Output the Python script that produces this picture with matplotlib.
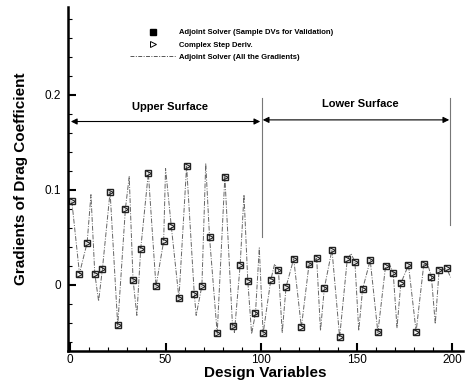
import matplotlib
matplotlib.use("Agg")
import matplotlib.pyplot as plt
from matplotlib.lines import Line2D
from matplotlib.ticker import MultipleLocator

plt.rcParams['font.family'] = ['Liberation Sans', 'DejaVu Sans']

# Sample design variables (validation points)
sample_dv = [1, 5, 9, 13, 17, 21, 25, 29, 33, 37, 41, 45, 49, 53, 57, 61, 65, 69, 73, 77,
             81, 85, 89, 93, 97, 101, 105, 109, 113, 117, 121, 125, 129, 133, 137, 141,
             145, 149, 153, 157, 161, 165, 169, 173, 177, 181, 185, 189, 193, 197]
adjoint_sample = [0.088, 0.012, 0.0445, 0.012, 0.017, 0.098, -0.0425, 0.080, 0.0056, 0.0376,
                  0.118, -0.0014, 0.046, 0.0616, -0.014, 0.125, -0.009, -0.001, 0.050, -0.051,
                  0.114, -0.043, 0.021, 0.004, -0.030, -0.051, 0.005, 0.016, -0.002, 0.0275,
                  -0.0445, 0.0216, 0.028, -0.0035, 0.037, -0.055, 0.027, 0.024, -0.0045, 0.026,
                  -0.050, 0.0195, 0.013, 0.0017, 0.021, -0.049, 0.0216, 0.0084, 0.0153, 0.0174]
complex_step = [0.088, 0.012, 0.0445, 0.012, 0.017, 0.098, -0.0425, 0.080, 0.0056, 0.0376,
                0.118, -0.0014, 0.046, 0.0616, -0.014, 0.125, -0.009, -0.001, 0.050, -0.051,
                0.114, -0.043, 0.021, 0.004, -0.030, -0.051, 0.005, 0.016, -0.002, 0.0275,
                -0.0445, 0.0216, 0.028, -0.0035, 0.037, -0.055, 0.027, 0.024, -0.0045, 0.026,
                -0.050, 0.0195, 0.013, 0.0017, 0.021, -0.049, 0.0216, 0.0084, 0.0153, 0.0174]

# All-gradient curve: values read at sample points and at the curve's extrema
all_dv = [1, 5, 9, 11, 13, 15, 17, 21, 25, 29, 31, 33, 35, 37, 41, 45, 49, 50, 53, 57,
          61, 65, 66, 69, 71, 73, 77, 81, 85, 86, 89, 91, 93, 95, 97, 99, 101, 105, 107,
          109, 111, 113, 117, 121, 125, 129, 131, 133, 137, 141, 145, 147, 149, 151, 153,
          157, 161, 165, 167, 169, 171, 173, 177, 181, 185, 187, 189, 191, 193, 197, 199]
all_grad = [0.088, 0.012, 0.0445, 0.095, 0.012, -0.017, 0.017, 0.098, -0.0425, 0.080,
            0.114, 0.0056, -0.032, 0.0376, 0.118, -0.0014, 0.046, 0.1225, 0.0616, -0.014,
            0.125, -0.009, -0.032, -0.001, 0.128, 0.050, -0.051, 0.114, -0.043, -0.050,
            0.021, 0.095, 0.004, -0.0515, -0.030, 0.039, -0.051, 0.005, 0.022,
            0.016, -0.050, -0.002, 0.0275, -0.0445, 0.0216, 0.028, -0.048, -0.0035, 0.037,
            -0.055, 0.027, 0.033, 0.024, -0.048, -0.0045, 0.026, -0.050, 0.0195, 0.022,
            0.013, -0.045, 0.0017, 0.021, -0.049, 0.0216, 0.022, 0.0084, -0.041, 0.0153,
            0.0174, 0.008]

legend_labels = ["Adjoint Solver (Sample DVs for Validation)", "Complex Step Deriv.",
                 "Adjoint Solver (All the Gradients)"]

fig = plt.figure(figsize=(4.67, 3.84), dpi=100)
ax = fig.add_axes([68/467, 1-351/384, 395/467, 344/384])

ax.plot(all_dv, all_grad, linestyle='-.', color='#666666', lw=0.7, dashes=(5, 1.5, 1, 1.5))
ax.plot(sample_dv, adjoint_sample, linestyle='none', marker='s', ms=4.8,
        mfc='none', mec='#222222', mew=1.0)
ax.plot(sample_dv, complex_step, linestyle='none', marker='>', ms=4.8,
        mfc='none', mec='#222222', mew=0.8)

ax.set_xlim(-1, 205.5)
ax.set_ylim(-0.0695, 0.2925)

for s in ['top', 'right']:
    ax.spines[s].set_visible(False)
for s in ['left', 'bottom']:
    ax.spines[s].set_linewidth(1.8)

ax.xaxis.set_major_locator(MultipleLocator(50))
ax.xaxis.set_minor_locator(MultipleLocator(10))
ax.yaxis.set_major_locator(MultipleLocator(0.1))
ax.yaxis.set_minor_locator(MultipleLocator(0.02))
ax.yaxis.set_major_formatter(plt.FuncFormatter(lambda v, p: '0' if abs(v) < 1e-9 else f'{v:g}'))
ax.tick_params(which='major', direction='in', length=6, width=1.5, labelsize=8.5)
ax.tick_params(which='minor', direction='in', length=3, width=0.8)
ax.tick_params(axis='x', which='major', pad=2)
ax.tick_params(axis='y', which='major', pad=5)

ax.set_xlabel('Design Variables', fontsize=11, fontweight='bold', labelpad=0)
ax.set_ylabel('Gradients of Drag Coefficient', fontsize=11, fontweight='bold', labelpad=12)

# Surface regions
ax.plot([100.2, 100.2], [0.05, 0.197], color='#777777', lw=0.8)
ax.plot([198.5, 198.5], [0.063, 0.197], color='#777777', lw=0.8)
ax.annotate('', xy=(0.5, 0.172), xytext=(99.5, 0.172),
            arrowprops=dict(arrowstyle='<|-|>', color='black', lw=0.8, mutation_scale=9,
                            shrinkA=0, shrinkB=0))
ax.annotate('', xy=(100.8, 0.1737), xytext=(198.3, 0.1737),
            arrowprops=dict(arrowstyle='<|-|>', color='black', lw=0.8, mutation_scale=9,
                            shrinkA=0, shrinkB=0))
ax.text(52.4, 0.187, 'Upper Surface', fontsize=8, fontweight='bold', ha='center', va='center')
ax.text(151.9, 0.19, 'Lower Surface', fontsize=8, fontweight='bold', ha='center', va='center')

handles = [
    Line2D([], [], linestyle='none', marker='s', ms=4, mfc='black', mec='black'),
    Line2D([], [], linestyle='none', marker='>', ms=4.5, mfc='none', mec='black', mew=0.7),
    Line2D([], [], linestyle='-.', color='#555555', lw=0.7, dashes=(4, 1.5, 1, 1.5)),
]
leg = fig.legend(handles, legend_labels, loc='upper left', bbox_to_anchor=(130/467, 1-29/384),
                 frameon=False, prop={'size': 5.5, 'weight': 'bold'}, handlelength=6,
                 handletextpad=0.4, labelspacing=0.65, borderpad=0, borderaxespad=0)

fig.savefig('out.png', dpi=100)
